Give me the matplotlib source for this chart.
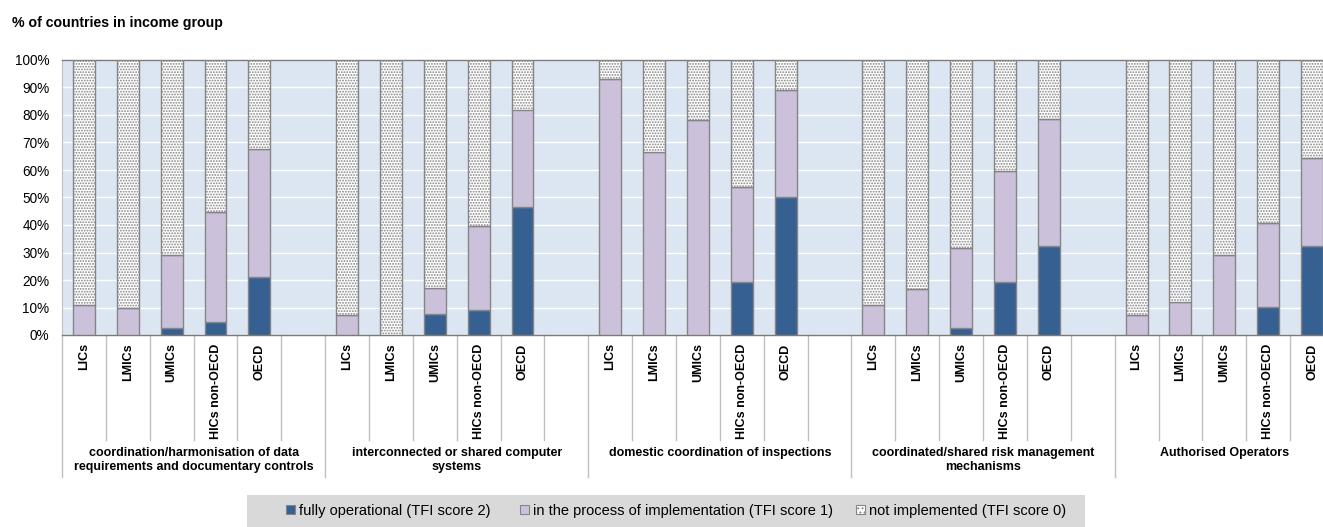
import matplotlib
matplotlib.use("Agg")
import matplotlib.pyplot as plt
import matplotlib.transforms as mtransforms
from matplotlib.patches import Patch, Rectangle
import numpy as np

plt.rcParams["font.family"] = ["Liberation Sans", "DejaVu Sans"]
plt.rcParams["hatch.linewidth"] = 0.9

# Trade-facilitation measures (outer categories) and income groups (inner categories)
measures = [
    "coordination/harmonisation of data\nrequirements and documentary controls",
    "interconnected or shared computer\nsystems",
    "domestic coordination of inspections",
    "coordinated/shared risk management\nmechanisms",
    "Authorised Operators",
]
income_groups = ["LICs", "LMICs", "UMICs", "HICs non-OECD", "OECD"]

# % of countries, one row per measure, one column per income group
fully_operational = [
    [0.0, 0.0, 2.7, 4.6, 21.1],
    [0.0, 0.0, 7.6, 9.1, 46.7],
    [0.0, 0.0, 0.0, 19.2, 50.2],
    [0.0, 0.0, 2.7, 19.4, 32.3],
    [0.0, 0.0, 0.0, 10.3, 32.3],
]
in_process = [
    [10.8, 9.8, 26.5, 40.1, 46.5],
    [7.2, 0.0, 9.6, 30.6, 35.3],
    [93.0, 66.6, 78.2, 34.8, 39.0],
    [10.8, 16.9, 29.0, 40.4, 46.1],
    [7.2, 12.0, 29.2, 30.4, 32.0],
]
not_implemented = [
    [89.2, 90.2, 70.8, 55.3, 32.4],
    [92.8, 100.0, 82.8, 60.3, 18.0],
    [7.0, 33.4, 21.8, 46.0, 10.8],
    [89.2, 83.1, 68.3, 40.2, 21.6],
    [92.8, 88.0, 70.8, 59.3, 35.7],
]

series_labels = [
    "fully operational (TFI score 2)",
    "in the process of implementation (TFI score 1)",
    "not implemented (TFI score 0)",
]

C_FULL = "#366092"
C_PROC = "#CCC1DA"
C_NONE = "#FFFFFF"
C_DOTS = "#858585"
C_EDGE = "#858585"
C_BG = "#DCE6F2"
C_SEP = "#BFBFBF"

W, H = 1323, 527
fig = plt.figure(figsize=(W / 100, H / 100), dpi=100)

slot_px = 43.86
n_slots = 29
ax = fig.add_axes([62 / W, (H - 335) / H, n_slots * slot_px / W, 275 / H])
ax.set_facecolor(C_BG)

width = 0.5
positions, tick_labels = [], []
for g in range(len(measures)):
    x = np.arange(len(income_groups)) + 6 * g
    full = np.array(fully_operational[g])
    proc = np.array(in_process[g])
    none = np.array(not_implemented[g])
    ax.bar(x, full, width, color=C_FULL, edgecolor=C_EDGE, linewidth=1, zorder=3)
    ax.bar(x, proc, width, bottom=full, color=C_PROC, edgecolor=C_EDGE,
           linewidth=1, zorder=3)
    ax.bar(x, none, width, bottom=full + proc, color=C_NONE, edgecolor=C_DOTS,
           hatch="......", linewidth=0, zorder=3)
    ax.bar(x, none, width, bottom=full + proc, fill=False, edgecolor=C_EDGE,
           linewidth=1, zorder=4)
    positions.extend(x)
    tick_labels.extend(income_groups)

ax.set_xlim(-0.5, n_slots - 0.5)
ax.set_ylim(0, 100)
ax.set_yticks(np.arange(0, 101, 10))
ax.set_yticklabels([f"{v}%" for v in range(0, 101, 10)], fontsize=9.8)
ax.tick_params(axis="y", length=0, pad=9)
ax.yaxis.grid(True, color="white", linewidth=1)
ax.set_axisbelow(True)

ax.set_xticks(positions)
ax.set_xticklabels(tick_labels, rotation=90, fontsize=9, fontweight="bold",
                   va="top", ha="center")
ax.tick_params(axis="x", length=0, pad=6)

for side in ["top", "bottom"]:
    ax.spines[side].set_color("#7A7A7A")
    ax.spines[side].set_linewidth(1)
ax.spines["left"].set_color(C_SEP)
ax.spines["right"].set_visible(False)

# Category separators below the axis
trans = mtransforms.blended_transform_factory(ax.transData, ax.transAxes)
inner_end = -(440 - 335) / 275
group_end = -(477 - 335) / 275
for k in range(n_slots + 1):
    b = k - 0.5
    y_end = group_end if k % 6 == 0 else inner_end
    ax.plot([b, b], [0, y_end], transform=trans, color=C_SEP, linewidth=1,
            clip_on=False, zorder=1)

for g, name in enumerate(measures):
    lo = 6 * g - 0.5
    hi = min(6 * g + 5.5, n_slots - 0.5)
    ax.text((lo + hi) / 2, -(447 - 335) / 275, name, transform=trans,
            ha="center", va="top", fontsize=9, fontweight="bold",
            linespacing=1.2)

fig.text(12 / W, 1 - 23 / H, "% of countries in income group",
         fontsize=10.2, fontweight="bold", va="center", ha="left")

# Legend band with three entries
fig.patches.append(Rectangle((247 / W, 0), (1085 - 247) / W, (H - 495) / H,
                             transform=fig.transFigure, facecolor="#D9D9D9",
                             edgecolor="none", zorder=0))
handles = [
    Patch(facecolor=C_FULL, edgecolor=C_EDGE, linewidth=0.8),
    Patch(facecolor=C_PROC, edgecolor=C_EDGE, linewidth=0.8),
    Patch(facecolor=C_NONE, edgecolor=C_DOTS, hatch="....", linewidth=0.8),
]
entry_left = [286, 520, 856]
for h, lab, xl in zip(handles, series_labels, entry_left):
    fig.legend([h], [lab], loc="center left",
               bbox_to_anchor=(xl / W, 1 - 511 / H), frameon=False,
               fontsize=10.5, handlelength=0.6, handleheight=0.6,
               handletextpad=0.3, borderpad=0, borderaxespad=0)

fig.savefig("out.png", dpi=100)
